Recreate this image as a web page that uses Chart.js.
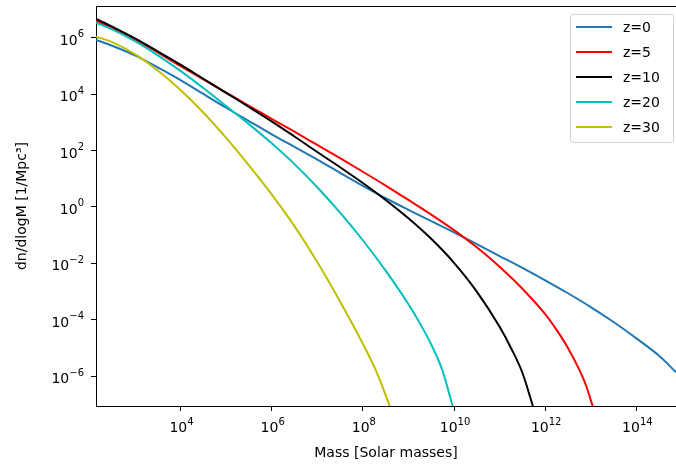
<!DOCTYPE html>
<html>
<head>
<meta charset="utf-8">
<script src="https://cdn.jsdelivr.net/npm/chart.js@4"></script>
<style>
  body { margin: 0; background: #fff; }
  #wrap { width: 676px; height: 465px; }
</style>
</head>
<body>
<div id="wrap"><canvas id="hmfChart" width="676" height="465"></canvas></div>
<script>
// Halo mass function: log10 of mass [Msun] and log10 of dn/dlogM [1/Mpc^3]
const redshifts = ['z=0', 'z=5', 'z=10', 'z=20', 'z=30'];
const lineColors = ['#1f77b4', '#ff0000', '#000000', '#00bfbf', '#bfbf00'];

const logMassZ0 = [2.146, 2.5, 3, 3.5, 4, 4.5, 5, 5.5, 6, 6.5, 7, 7.5, 8, 8.5, 9, 9.5, 10, 10.5, 11, 11.5, 12, 12.5, 13, 13.5, 14, 14.5, 14.87];
const logDnZ0   = [5.93, 5.72, 5.38, 4.95, 4.50, 4.01, 3.52, 3.05, 2.58, 2.13, 1.68, 1.21, 0.75, 0.31, -0.10, -0.50, -0.90, -1.32, -1.74, -2.16, -2.60, -3.06, -3.55, -4.08, -4.66, -5.28, -5.86];

const logMassZ5 = [2.146, 2.5, 3, 3.5, 4, 4.5, 5, 5.5, 6, 6.5, 7, 7.5, 8, 8.5, 9, 9.5, 10, 10.5, 11, 11.5, 12, 12.25, 12.5, 12.75, 12.9, 13.04];
const logDnZ5   = [6.60, 6.35, 5.95, 5.48, 5.00, 4.53, 4.06, 3.59, 3.13, 2.67, 2.20, 1.73, 1.25, 0.76, 0.25, -0.27, -0.82, -1.43, -2.12, -2.90, -3.80, -4.36, -5.00, -5.78, -6.35, -7.06];

const logMassZ10 = [2.146, 2.5, 3, 3.5, 4, 4.5, 5, 5.5, 6, 6.5, 7, 7.5, 8, 8.5, 9, 9.5, 10, 10.5, 11, 11.25, 11.5, 11.73];
const logDnZ10   = [6.67, 6.40, 5.98, 5.52, 5.05, 4.55, 4.05, 3.55, 3.04, 2.50, 1.95, 1.41, 0.85, 0.25, -0.40, -1.13, -1.98, -3.00, -4.25, -5.00, -5.88, -7.06];

const logMassZ20 = [2.146, 2.5, 3, 3.5, 4, 4.5, 5, 5.5, 6, 6.5, 7, 7.5, 8, 8.5, 9, 9.25, 9.5, 9.75, 9.97];
const logDnZ20   = [6.54, 6.30, 5.88, 5.38, 4.83, 4.22, 3.58, 2.94, 2.26, 1.52, 0.70, -0.20, -1.18, -2.26, -3.45, -4.12, -4.88, -5.82, -7.06];

const logMassZ30 = [2.146, 2.5, 3, 3.5, 4, 4.5, 5, 5.5, 6, 6.5, 7, 7.5, 8, 8.3, 8.59];
const logDnZ30   = [6.04, 5.85, 5.42, 4.84, 4.15, 3.35, 2.45, 1.48, 0.45, -0.68, -1.95, -3.35, -4.85, -5.85, -7.06];

const xTicks = [1e4, 1e6, 1e8, 1e10, 1e12, 1e14];
const yTicks = [1e-6, 1e-4, 1e-2, 1, 1e2, 1e4, 1e6];

const xRange = [2.146, 14.87];
const yRange = [-7.06, 7.13];

const seriesMass = [logMassZ0, logMassZ5, logMassZ10, logMassZ20, logMassZ30];
const seriesDn = [logDnZ0, logDnZ5, logDnZ10, logDnZ20, logDnZ30];

const FONT = '"DejaVu Sans", sans-serif';

function toPoints(logM, logN) {
    return logM.map((m, i) => ({ x: Math.pow(10, m), y: Math.pow(10, logN[i]) }));
}

// "10" with a raised exponent, like a mathtext tick label
function drawPow(ctx, value, x, y, align) {
    const e = Math.round(Math.log10(value));
    const sup = String(e).replace('-', '\u2212');
    ctx.font = '14px ' + FONT;
    const wBase = ctx.measureText('10').width;
    ctx.font = '10px ' + FONT;
    const wSup = ctx.measureText(sup).width;
    const total = wBase + wSup;
    const x0 = align === 'right' ? x - total : x - total / 2;
    ctx.textAlign = 'left';
    ctx.textBaseline = 'alphabetic';
    ctx.font = '14px ' + FONT;
    ctx.fillText('10', x0, y);
    ctx.font = '10px ' + FONT;
    ctx.fillText(sup, x0 + wBase, y - 7.5);
}

// tick labels, top edge of the frame and the boxed legend
const framePlugin = {
    id: 'frameAndLegend',
    afterDraw(chart) {
        const ctx = chart.ctx;
        const area = chart.chartArea;
        const xs = chart.scales.x;
        const ys = chart.scales.y;
        ctx.save();
        ctx.strokeStyle = '#000';
        ctx.lineWidth = 1;
        ctx.beginPath();
        ctx.moveTo(area.left, area.top + 0.5);
        ctx.lineTo(area.right, area.top + 0.5);
        ctx.stroke();

        ctx.fillStyle = '#000';
        xTicks.forEach(v => drawPow(ctx, v, xs.getPixelForValue(v) + 1, area.bottom + 26, 'center'));
        yTicks.forEach(v => drawPow(ctx, v, area.left - 12, ys.getPixelForValue(v) + 7, 'right'));

        const bx = 570.5, by = 14.5, bw = 103, bh = 128;
        ctx.fillStyle = 'rgba(255,255,255,0.8)';
        ctx.strokeStyle = '#d0d0d0';
        ctx.beginPath();
        ctx.roundRect(bx, by, bw, bh, 3);
        ctx.fill();
        ctx.stroke();

        ctx.font = '14px ' + FONT;
        ctx.textAlign = 'left';
        ctx.textBaseline = 'middle';
        chart.data.datasets.forEach((ds, i) => {
            const y = 27 + i * 25;
            ctx.strokeStyle = ds.borderColor;
            ctx.lineWidth = 2;
            ctx.beginPath();
            ctx.moveTo(576, y);
            ctx.lineTo(612, y);
            ctx.stroke();
            ctx.fillStyle = '#000';
            ctx.fillText(ds.label, 623, y + 1);
        });
        ctx.restore();
    }
};

document.addEventListener('DOMContentLoaded', function () {
    const canvas = document.getElementById('hmfChart');

    const datasets = redshifts.map((label, i) => ({
        label: label,
        data: toPoints(seriesMass[i], seriesDn[i]),
        borderColor: lineColors[i],
        backgroundColor: lineColors[i],
        borderWidth: 2,
        pointRadius: 0,
        fill: false,
        cubicInterpolationMode: 'monotone',
        order: redshifts.length - i
    }));

    new Chart(canvas.getContext('2d'), {
        type: 'line',
        data: { datasets: datasets },
        options: {
            responsive: false,
            animation: false,
            layout: { padding: { top: 6, left: 0, right: 0, bottom: 0 } },
            plugins: {
                legend: { display: false },
                tooltip: { enabled: false }
            },
            scales: {
                x: {
                    type: 'logarithmic',
                    min: Math.pow(10, xRange[0]),
                    max: Math.pow(10, xRange[1]),
                    afterBuildTicks: scale => { scale.ticks = xTicks.map(v => ({ value: v })); },
                    afterFit: scale => {
                        scale.height = 59;
                        scale.paddingLeft = 0;
                        scale.paddingRight = 0;
                    },
                    grid: { display: true, drawOnChartArea: false, drawTicks: true, tickLength: 5, color: '#000' },
                    border: { display: true, color: '#000', width: 1 },
                    ticks: { display: false, autoSkip: false },
                    title: {
                        display: true,
                        text: 'Mass [Solar masses]',
                        color: '#000',
                        font: { family: FONT, size: 14 },
                        padding: { top: 0, bottom: 3 }
                    }
                },
                y: {
                    type: 'logarithmic',
                    min: Math.pow(10, yRange[0]),
                    max: Math.pow(10, yRange[1]),
                    afterBuildTicks: scale => { scale.ticks = yTicks.map(v => ({ value: v })); },
                    afterFit: scale => {
                        scale.width = 96;
                        scale.paddingTop = 0;
                        scale.paddingBottom = 0;
                    },
                    grid: { display: true, drawOnChartArea: false, drawTicks: true, tickLength: 5, color: '#000' },
                    border: { display: true, color: '#000', width: 1 },
                    ticks: { display: false, autoSkip: false },
                    title: {
                        display: true,
                        text: 'dn/dlogM [1/Mpc³]',
                        color: '#000',
                        font: { family: FONT, size: 14 },
                        padding: { top: 14, bottom: 0 }
                    }
                }
            }
        },
        plugins: [framePlugin]
    });
});
</script>
</body>
</html>
